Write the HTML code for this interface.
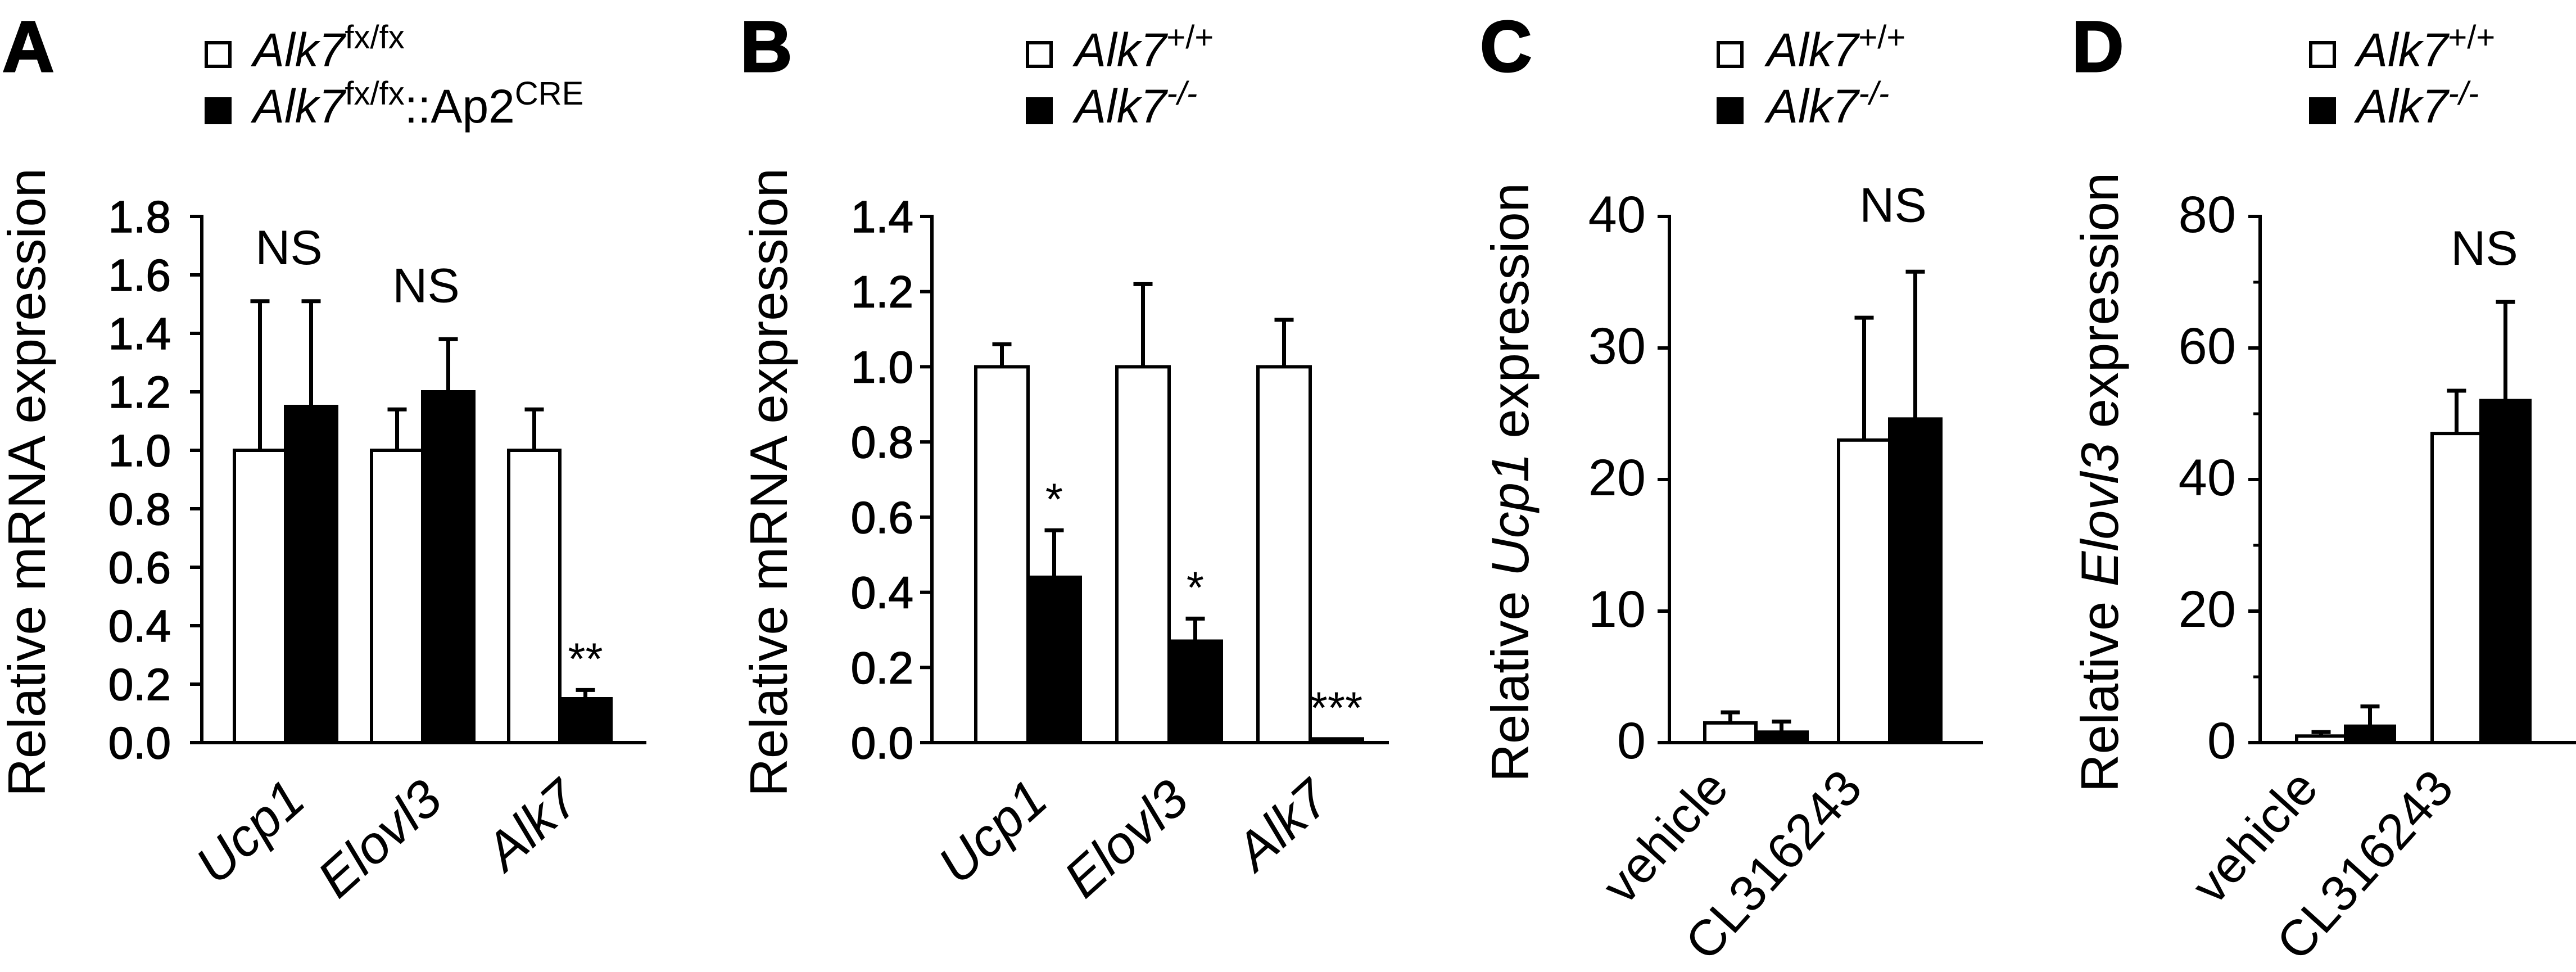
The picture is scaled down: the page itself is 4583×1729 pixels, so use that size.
<!DOCTYPE html>
<html><head><meta charset="utf-8"><style>
html,body{margin:0;padding:0;background:#fff;}
svg{display:block;font-family:"Liberation Sans",Arial,sans-serif;}
</style></head><body>
<svg id="fig" width="4583" height="1729" viewBox="0 0 4583 1729" xmlns="http://www.w3.org/2000/svg"></svg>
<script>
// Panel A data
const catsA = ["Ucp1","Elovl3","Alk7"];
const whiteA = [1.0, 1.0, 1.0];
const whiteErrA = [0.51, 0.14, 0.14];
const blackA = [1.15, 1.2, 0.15];
const blackErrA = [0.36, 0.18, 0.03];
const ticksA = ["0.0","0.2","0.4","0.6","0.8","1.0","1.2","1.4","1.6","1.8"];
const tickValsA = [0,0.2,0.4,0.6,0.8,1.0,1.2,1.4,1.6,1.8];
const annotA = ["NS","NS",""];
const starsA = ["","","**"];
// Panel B data
const catsB = ["Ucp1","Elovl3","Alk7"];
const whiteB = [1.0, 1.0, 1.0];
const whiteErrB = [0.06, 0.22, 0.125];
const blackB = [0.44, 0.27, 0.01];
const blackErrB = [0.125, 0.06, 0];
const ticksB = ["0.0","0.2","0.4","0.6","0.8","1.0","1.2","1.4"];
const tickValsB = [0,0.2,0.4,0.6,0.8,1.0,1.2,1.4];
const annotB = ["","",""];
const starsB = ["*","*","***"];
// Panel C data
const catsC = ["vehicle","CL316243"];
const whiteC = [1.5, 23.0];
const whiteErrC = [0.8, 9.3];
const blackC = [0.8, 24.6];
const blackErrC = [0.8, 11.2];
const ticksC = ["0","10","20","30","40"];
const tickValsC = [0,10,20,30,40];
const annotC = ["","NS"];
const starsC = ["",""];
// Panel D data
const catsD = ["vehicle","CL316243"];
const whiteD = [1.0, 47.0];
const whiteErrD = [0.6, 6.5];
const blackD = [2.5, 52.0];
const blackErrD = [3.0, 15.0];
const ticksD = ["0","20","40","60","80"];
const tickValsD = [0,20,40,60,80];
const minorD = [10,30,50,70];
const annotD = ["","NS"];
const starsD = ["",""];

const NS = "http://www.w3.org/2000/svg";
const svg = document.getElementById("fig");
function mk(tag, attrs, parent){
  const e = document.createElementNS(NS, tag);
  for (const k in attrs) e.setAttribute(k, attrs[k]);
  (parent||svg).appendChild(e);
  return e;
}
const Y0 = 1321, YT = 385;

function panel(p){
  const g = mk("g", {});
  
  
  const max = p.max;
  const y = v => Y0 - (v/max)*(Y0-YT);
  const cx = i => p.c0 + i*p.sp;
  const ya = mk("line",{x1:p.ax,y1:YT-3,x2:p.ax,y2:Y0+3,stroke:"#000","stroke-width":6},g);
  
  
  const xa = mk("line",{x1:p.ax-3,y1:Y0,x2:p.axEnd,y2:Y0,stroke:"#000","stroke-width":6},g);
  
  
  p.tickVals.forEach((v,i)=>{
    const t = mk("line",{x1:p.ax-21,y1:y(v),x2:p.ax,y2:y(v),stroke:"#000","stroke-width":6},g);
    
    
    const tl = mk("text",{x:p.tlx,y:y(v)+28,"text-anchor":"end","font-size":p.tfs,stroke:"#000","stroke-width":p.tsw},g);
    tl.textContent = p.ticks[i];
    
    
  });
  (p.minor||[]).forEach(v=>{
    const t = mk("line",{x1:p.ax-12,y1:y(v),x2:p.ax,y2:y(v),stroke:"#000","stroke-width":5},g);
    
    
  });
  p.cats.forEach((c,i)=>{
    const c0 = cx(i);
    [[p.w, p.we, "#fff", -1],[p.b, p.be, "#000", 0]].forEach(([vals,errs,fill,side],k)=>{
      const x0 = side<0 ? c0-p.bw : c0;
      const top = y(vals[i]);
      const bc = x0 + p.bw/2;
      if (errs[i]>0){
        const et = y(vals[i]+errs[i]);
        const el = mk("line",{x1:bc,y1:top,x2:bc,y2:et,stroke:"#000","stroke-width":7},g);
        
        
        const ec = mk("line",{x1:bc-17,y1:et,x2:bc+17,y2:et,stroke:"#000","stroke-width":7},g);
        
        
      }
      const r = mk("rect",{x:x0,y:top,width:p.bw,height:Math.max(Y0-top,1),fill:fill,stroke:"#000","stroke-width":6},g);
      
      
    });
    if (p.stars[i]){
      const bc = c0 + p.bw/2;
      const et = y(p.b[i]+p.be[i]);
      const s = mk("text",{x:bc,y:et-28,"text-anchor":"middle","font-size":80},g);
      s.textContent = p.stars[i];
      
      
    }
    if (p.annot[i]){
      const et = Math.min(y(p.w[i]+p.we[i]), y(p.b[i]+p.be[i]));
      const s = mk("text",{x:c0+6,y:et-p.nsOff,"text-anchor":"middle","font-size":86},g);
      s.textContent = p.annot[i];
      
      
    }
    const lx = c0 + p.lxo, ly = p.ly;
    const xl = mk("text",{x:lx,y:ly,"text-anchor":"end","font-size":p.xfs,"font-style":p.xit?"italic":"normal",transform:`rotate(${p.rot} ${lx} ${ly})`},g);
    xl.textContent = c;
    
    
  });
}

panel({name:"panel-a",ax:359,axEnd:1150,max:1.8,ticks:ticksA,tickVals:tickValsA,tlx:304,tfs:80,tsw:1.5,
  cats:catsA,w:whiteA,we:whiteErrA,b:blackA,be:blackErrA,c0:508,sp:244,bw:91,annot:annotA,stars:starsA,nsOff:66,xfs:94,xit:true,rot:-42,lxo:40,ly:1430});
panel({name:"panel-b",ax:1658,axEnd:2471,max:1.4,ticks:ticksB,tickVals:tickValsB,tlx:1625,tfs:80,tsw:1.5,
  cats:catsB,w:whiteB,we:whiteErrB,b:blackB,be:blackErrB,c0:1829,sp:251,bw:93,annot:annotB,stars:starsB,nsOff:66,xfs:94,xit:true,rot:-42,lxo:40,ly:1430});
panel({name:"panel-c",ax:2970,axEnd:3528,max:40,ticks:ticksC,tickVals:tickValsC,tlx:2928,tfs:92,tsw:0,
  cats:catsC,w:whiteC,we:whiteErrC,b:blackC,be:blackErrC,c0:3124,sp:238,bw:91,annot:annotC,stars:starsC,nsOff:89,xfs:90,xit:false,rot:-48,lxo:-45,ly:1405});
panel({name:"panel-d",ax:4021,axEnd:4583,max:80,ticks:ticksD,tickVals:tickValsD,minor:minorD,tlx:3978,tfs:92,tsw:0,
  cats:catsD,w:whiteD,we:whiteErrD,b:blackD,be:blackErrD,c0:4173,sp:241,bw:87,annot:annotD,stars:starsD,nsOff:66,xfs:90,xit:false,rot:-48,lxo:-45,ly:1405});

function letter(t,x){
  const e = mk("text",{x:x,y:127,"font-size":128,"font-weight":"bold",stroke:"#000","stroke-width":3});
  e.textContent = t;
  
  
}
letter("A",4); letter("B",1317); letter("C",2633); letter("D",3686);

function ytitle(x, parts, name){
  const e = mk("text",{x:0,y:0,"font-size":94,"text-anchor":"middle",transform:`translate(${x} 858) rotate(-90)`});
  parts.forEach(([t,it])=>{
    const s = mk("tspan",{"font-style":it?"italic":"normal"},e);
    s.textContent = t;
  });
  
  
}
ytitle(80,[["Relative mRNA expression",false]],"y-axis-title-a");
ytitle(1400,[["Relative mRNA expression",false]],"y-axis-title-b");
ytitle(2719,[["Relative ",false],["Ucp1",true],[" expression",false]],"y-axis-title-c");
ytitle(3768,[["Relative ",false],["Elovl3",true],[" expression",false]],"y-axis-title-d");

function legendRow(sx, tx, yb, fill, parts, name){
  const r = mk("rect",{x:sx+3,y:yb-42,width:42,height:42,fill:fill,stroke:"#000","stroke-width":6});
  
  
  const e = mk("text",{x:tx,y:yb,"font-size":84});
  parts.forEach(([t,it,sup])=>{
    const s = mk("tspan",{"font-style":it?"italic":"normal"},e);
    if (sup){ s.setAttribute("font-size",58); s.setAttribute("dy",-32); }
    else if (e.childNodes.length>1){ s.setAttribute("dy",32); }
    s.textContent = t;
  });
  
  
}
legendRow(364,450,118,"#fff",[["Alk7",true,false],["fx/fx",false,true]],"legend-entry-a-control");
legendRow(364,450,218,"#000",[["Alk7",true,false],["fx/fx",false,true],["::Ap2",false,false],["CRE",false,true]],"legend-entry-a-knockout");
legendRow(1825,1912,118,"#fff",[["Alk7",true,false],["+/+",false,true]],"legend-entry-b-wildtype");
legendRow(1825,1912,218,"#000",[["Alk7",true,false],["-/-",true,true]],"legend-entry-b-knockout");
legendRow(3054,3143,118,"#fff",[["Alk7",true,false],["+/+",false,true]],"legend-entry-c-wildtype");
legendRow(3054,3143,218,"#000",[["Alk7",true,false],["-/-",true,true]],"legend-entry-c-knockout");
legendRow(4108,4192,118,"#fff",[["Alk7",true,false],["+/+",false,true]],"legend-entry-d-wildtype");
legendRow(4108,4192,218,"#000",[["Alk7",true,false],["-/-",true,true]],"legend-entry-d-knockout");
</script>
</body></html>
